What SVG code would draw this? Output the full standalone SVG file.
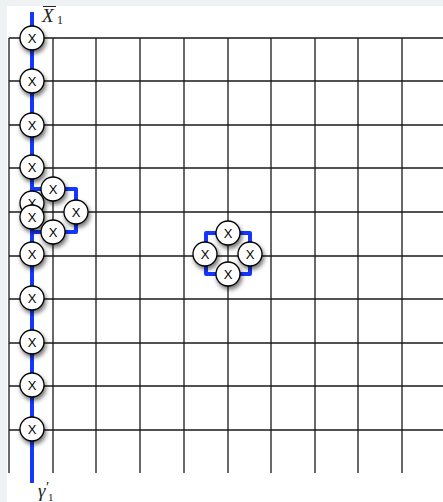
<svg xmlns="http://www.w3.org/2000/svg" width="443" height="502" viewBox="0 0 443 502">
<style>
.g{stroke:#1a1a1a;stroke-width:1.3;fill:none}
.b{stroke:#1437ff;stroke-width:4;fill:none;stroke-linejoin:round}
.n circle{fill:#fff;stroke:#000;stroke-width:1.3;filter:url(#sh)}
.n text{font-family:"Liberation Sans",Arial,sans-serif;font-size:13px;text-anchor:middle;fill:#000}
.lab{font-family:"Liberation Serif","Times New Roman",serif;font-style:italic;font-size:19px;fill:#222}
.sub{font-family:"Liberation Serif","Times New Roman",serif;font-size:12px;fill:#222}
</style>
<defs>
<filter id="sh" x="-50%" y="-50%" width="200%" height="200%">
<feDropShadow dx="1.5" dy="3" stdDeviation="2.2" flood-color="#000" flood-opacity="0.55"/>
</filter>
</defs>
<rect width="443" height="502" fill="#fff"/>
<rect x="0" y="0" width="443" height="6" fill="#eef2f2"/>
<rect x="0" y="0" width="7" height="502" fill="#eef2f2"/>
<g id="grid" class="g">
<path d="M9 38V473M53 38V473M96 38V473M140 38V473M184 38V473M228 38V473M271 38V473M315 38V473M358 38V473M402 38V473"/>
<path d="M9 38H443M9 81H443M9 125H443M9 168H443M9 212H443M9 256H443M9 299H443M9 343H443M9 386H443M9 430H443"/>
</g>
<g id="connectors" class="b">
<path d="M32 12V483"/>
<path d="M32 189H76V232H32"/>
<path d="M206 233H250V274H206Z"/>
</g>
<g id="labels">
<line x1="43" y1="6.5" x2="56" y2="6.5" stroke="#222" stroke-width="1"/>
<text class="lab" x="42" y="22">X</text>
<text class="sub" x="57" y="24">1</text>
<text class="lab" x="38" y="497">γ</text>
<text class="sub" x="46" y="492" style="font-size:15px">′</text>
<text class="sub" x="48" y="501" style="font-size:11px">1</text>
</g>
<g id="n1" class="n"><circle cx="32" cy="38" r="12"/><text x="32" y="43">X</text></g>
<g id="n2" class="n"><circle cx="32" cy="81" r="12"/><text x="32" y="86">X</text></g>
<g id="n3" class="n"><circle cx="32" cy="125" r="12"/><text x="32" y="130">X</text></g>
<g id="n4" class="n"><circle cx="32" cy="167" r="12"/><text x="32" y="172">X</text></g>
<g id="n5" class="n"><circle cx="32" cy="203" r="12"/><text x="32" y="208">X</text></g>
<g id="n6" class="n"><circle cx="32" cy="217" r="12"/><text x="32" y="222">X</text></g>
<g id="n7" class="n"><circle cx="53" cy="189" r="12"/><text x="53" y="194">X</text></g>
<g id="n8" class="n"><circle cx="76" cy="212" r="12"/><text x="76" y="217">X</text></g>
<g id="n9" class="n"><circle cx="53" cy="232" r="12"/><text x="53" y="237">X</text></g>
<g id="n10" class="n"><circle cx="32" cy="254" r="12"/><text x="32" y="259">X</text></g>
<g id="n11" class="n"><circle cx="32" cy="298" r="12"/><text x="32" y="303">X</text></g>
<g id="n12" class="n"><circle cx="32" cy="342" r="12"/><text x="32" y="347">X</text></g>
<g id="n13" class="n"><circle cx="32" cy="385" r="12"/><text x="32" y="390">X</text></g>
<g id="n14" class="n"><circle cx="32" cy="429" r="12"/><text x="32" y="434">X</text></g>
<g id="n15" class="n"><circle cx="228" cy="233" r="12"/><text x="228" y="238">X</text></g>
<g id="n16" class="n"><circle cx="205" cy="254" r="12"/><text x="205" y="259">X</text></g>
<g id="n17" class="n"><circle cx="250" cy="254" r="12"/><text x="250" y="259">X</text></g>
<g id="n18" class="n"><circle cx="228" cy="274" r="12"/><text x="228" y="279">X</text></g>
</svg>
